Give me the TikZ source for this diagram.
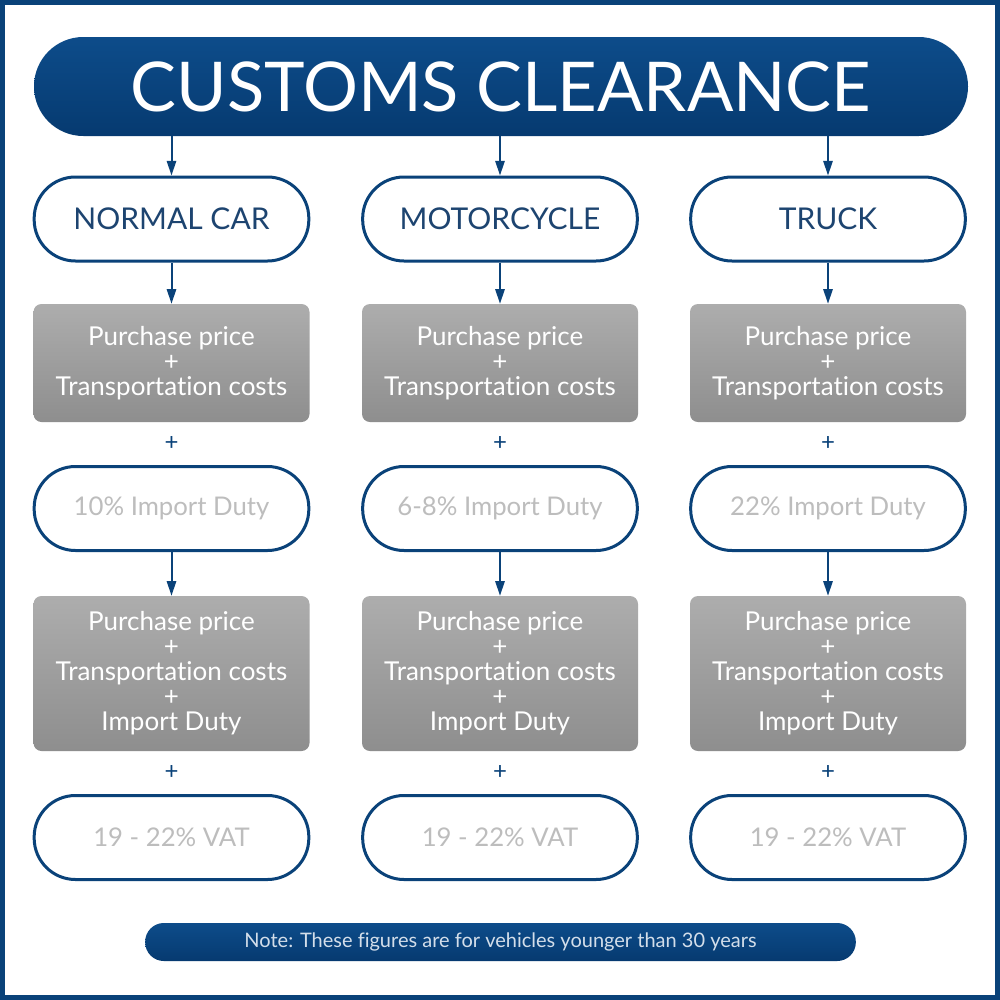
\documentclass[tikz,border=0pt]{standalone}
\usepackage{fontspec}
\setmainfont{Lato}[Ligatures=NoCommon]
\usetikzlibrary{arrows.meta,positioning}
\definecolor{navy}{HTML}{0A4279}
\definecolor{navytop}{HTML}{0D4C8A}
\definecolor{navybot}{HTML}{063A70}
\definecolor{pilltext}{HTML}{1D4470}
\definecolor{lighttext}{HTML}{BDBDBD}
\definecolor{graytop}{HTML}{ADADAD}
\definecolor{graybot}{HTML}{8E8E8E}
\definecolor{notetext}{HTML}{D3DEEA}
\tikzset{
  pill/.style={draw=navy, line width=2.25pt, fill=white, rounded corners=31pt,
    minimum width=206pt, minimum height=63pt, inner sep=0pt, align=center},
  typepill/.style={pill, text=pilltext, font=\fontsize{22.5}{24}\selectfont},
  ratepill/.style={pill, text=lighttext, font=\fontsize{19.3}{22}\selectfont},
  graybox/.style={rounded corners=6pt, top color=graytop, bottom color=graybot,
    minimum width=207pt, inner sep=0pt, align=center, text=white,
    font=\fontsize{19.5}{18.75}\selectfont},
  plussign/.style={text=navy, font=\fontsize{18}{18}\selectfont, inner sep=0pt},
  arr/.style={draw=navy, line width=1.5pt, -{Triangle[length=11pt,width=7pt]}},
}
\begin{document}
\begin{tikzpicture}[x=0.75pt,y=-0.75pt]
\useasboundingbox (0,0) rectangle (1000,1000);
\fill[white] (0,0) rectangle (1000,1000);
\draw[navy, line width=3.4pt] (2.3,2.3) rectangle (997.7,997.7);
% title
\node[rounded corners=37pt, top color=navytop, bottom color=navybot,
  minimum width=700.5pt, minimum height=74.25pt, inner sep=0pt,
  text=white, font=\fontsize{51.5}{52}\selectfont] (title) at (501,86.5) {CUSTOMS CLEARANCE};
% columns
\foreach \i/\x/\name/\rate in {1/171.5/NORMAL CAR/10\% Import Duty, 2/500/MOTORCYCLE/6-8\% Import Duty, 3/828/TRUCK/22\% Import Duty}{
  \node[typepill] (type\i) at (\x,219) {\name};
  \node[graybox, minimum height=88.5pt] (box\i) at (\x,363) {Purchase price\\+\\Transportation costs};
  \node[plussign] (plusa\i) at (\x,443) {+};
  \node[ratepill] (rate\i) at (\x,508.5) {\rate};
  \node[graybox, minimum height=116.25pt] (boxb\i) at (\x,673.5) {Purchase price\\+\\Transportation costs\\+\\Import Duty};
  \node[plussign] (plusb\i) at (\x,772) {+};
  \node[ratepill] (vat\i) at (\x,837.5) {19 - 22\% VAT};
  \draw[arr] (type\i.north |- title.south) -- (type\i.north);
  \draw[arr] (type\i.south) -- (box\i.north);
  \draw[arr] (rate\i.south) -- (boxb\i.north);
}
% note
\node[rounded corners=14pt, top color=navytop, bottom color=navybot,
  minimum width=533pt, minimum height=28.5pt, inner sep=0pt,
  text=notetext, font=\fontsize{15}{16}\selectfont] (note) at (500.5,942)
  {Note: These figures are for vehicles younger than 30 years};
\end{tikzpicture}
\end{document}
